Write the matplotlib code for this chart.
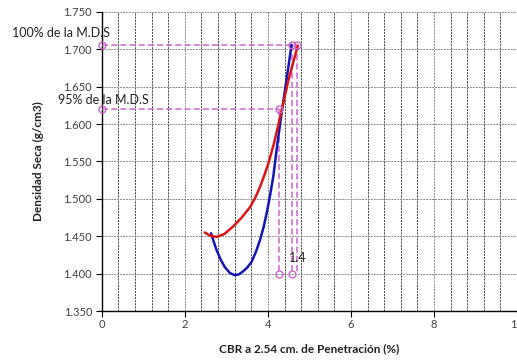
import matplotlib
matplotlib.use("Agg")
import matplotlib.pyplot as plt
import numpy as np
from matplotlib.ticker import MultipleLocator

# Curve data
blue_x = [2.63, 2.70, 2.76, 2.86, 2.96, 3.08, 3.20, 3.30, 3.40, 3.50, 3.61, 3.71, 3.81, 3.90, 3.97, 4.05, 4.13, 4.22, 4.33, 4.45, 4.57]
blue_y = [1.454, 1.442, 1.432, 1.419, 1.409, 1.401, 1.398, 1.399, 1.403, 1.408, 1.416, 1.429, 1.445, 1.463, 1.481, 1.504, 1.530, 1.570, 1.615, 1.660, 1.706]

red_x = [2.48, 2.60, 2.76, 2.95, 3.16, 3.37, 3.57, 3.70, 3.81, 3.91, 4.01, 4.15, 4.33, 4.50, 4.72]
red_y = [1.455, 1.451, 1.449, 1.453, 1.463, 1.475, 1.489, 1.502, 1.516, 1.531, 1.547, 1.575, 1.618, 1.660, 1.705]

mds = 1.706          # 100% M.D.S
mds95 = 1.620        # 95% M.D.S
cbr95 = 4.27
cbr100_a = 4.57
cbr100_b = 4.70
base_y = 1.400

x_ticks = [0, 2, 4, 6, 8, 10]
y_ticks = [1.350, 1.400, 1.450, 1.500, 1.550, 1.600, 1.650, 1.700, 1.750]

plt.rcParams['font.family'] = ['Lato', 'DejaVu Sans']

fig = plt.figure(figsize=(5.17, 3.60), dpi=100)
ax = fig.add_axes([0.197, 0.136, 0.803, 0.831])

ax.set_xlim(0, 10)
ax.set_ylim(1.350, 1.750)
ax.set_xticks(x_ticks)
ax.set_yticks(y_ticks)
ax.set_yticklabels([f"{v:.3f}" for v in y_ticks])
ax.xaxis.set_minor_locator(MultipleLocator(0.4))

# grids
ax.grid(which='major', axis='y', color='#8a8a8a', linestyle=(0, (2, 1)), linewidth=0.7)
ax.grid(which='minor', axis='x', color='#2a2a2a', linestyle=(0, (2.5, 1.2)), linewidth=0.6)
ax.grid(which='major', axis='x', color='#8a8a8a', linestyle=(0, (2, 1)), linewidth=0.7)
ax.set_axisbelow(True)

for s in ['top', 'right']:
    ax.spines[s].set_visible(False)
ax.spines['left'].set_color('black')
ax.spines['bottom'].set_color('black')
ax.spines['left'].set_linewidth(1.0)
ax.spines['bottom'].set_linewidth(1.0)

ax.tick_params(axis='both', which='major', labelsize=8, labelcolor='#404040', length=4, color='black')
ax.tick_params(axis='x', which='minor', length=0)
ax.tick_params(axis='x', pad=2)
ax.tick_params(axis='y', pad=3)

pink = '#CC66CC'
dash = (0, (4, 2))
# reference lines
ax.plot([0, cbr100_b], [mds, mds], color=pink, linestyle=dash, linewidth=1.1, zorder=3)
ax.plot([0, cbr95], [mds95, mds95], color=pink, linestyle=dash, linewidth=1.1, zorder=3)
ax.plot([cbr95, cbr95], [mds95, base_y], color=pink, linestyle=dash, linewidth=1.1, zorder=3)
ax.plot([cbr100_a, cbr100_a], [mds, base_y], color=pink, linestyle=dash, linewidth=1.1, zorder=3)
ax.plot([cbr100_b, cbr100_b], [mds, base_y], color=pink, linestyle=dash, linewidth=1.1, zorder=3)

mk = dict(marker='o', markersize=5, markerfacecolor='none', markeredgecolor=pink,
          markeredgewidth=1.0, linestyle='none', zorder=5, clip_on=False)
ax.plot([0, 0, cbr95, cbr100_a, cbr100_b], [mds, mds95, mds95, mds, mds], **mk)
ax.plot([cbr95, cbr100_a], [base_y, base_y], **mk)

# curves
ax.plot(blue_x, blue_y, color='#1414B4', linewidth=1.8, zorder=4, solid_capstyle='round')
ax.plot(red_x, red_y, color='#DD1414', linewidth=1.8, zorder=4, solid_capstyle='round')

# annotations
ax.text(-2.17, 1.722, "100% de la M.D.S", fontsize=9, color='#222222', va='center', ha='left', clip_on=False)
ax.text(-1.06, 1.632, "95% de la M.D.S", fontsize=9, color='#222222', va='center', ha='left', clip_on=False)
ax.text(4.50, 1.421, "1.4", fontsize=9, color='#222222', va='center', ha='left')

ax.set_xlabel("CBR a 2.54 cm. de Penetración (%)", fontsize=8.5, fontweight='bold', color='#222222', labelpad=9)
ax.set_ylabel("Densidad Seca (g/cm3)", fontsize=8.5, fontweight='bold', color='#222222', labelpad=14)

fig.savefig("out.png", dpi=100)
